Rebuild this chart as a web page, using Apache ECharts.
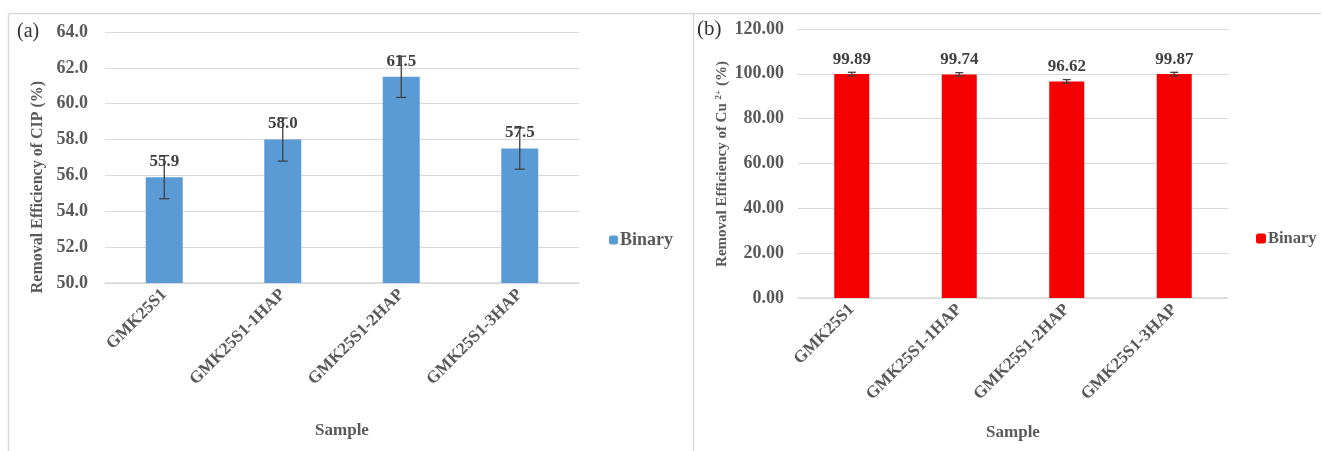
<!DOCTYPE html>
<html>
<head>
<meta charset="utf-8">
<script src="https://cdn.jsdelivr.net/npm/echarts@6/dist/echarts.min.js"></script>
<style>
  html, body { margin: 0; padding: 0; background: #fff; }
  #chart { width: 1322px; height: 451px; }
</style>
</head>
<body>
<div id="chart"></div>
<script>
// Sample names shared by both panels
const samples = ['GMK25S1', 'GMK25S1-1HAP', 'GMK25S1-2HAP', 'GMK25S1-3HAP'];

// Panel (a): CIP removal efficiency (%) and its error
const cipValues = [55.9, 58.0, 61.5, 57.5];
const cipErrors = [1.2, 1.2, 1.15, 1.15];

// Panel (b): Cu2+ removal efficiency (%) and its error
const cuValues = [99.89, 99.74, 96.62, 99.87];
const cuErrors = [0.8, 0.8, 0.8, 0.8];

const serif = '"Liberation Serif", "Times New Roman", serif';
const gridGray = '#d9d9d9';
const textGray = '#595959';

function errorBarSeries(name, xi, yi, values, errors, capHalf) {
  return {
    type: 'custom',
    name: name + ' error',
    xAxisIndex: xi,
    yAxisIndex: yi,
    z: 5,
    silent: true,
    data: values.map((v, i) => [i, v - errors[i], v + errors[i]]),
    renderItem: function (params, api) {
      const lo = api.coord([api.value(0), api.value(1)]);
      const hi = api.coord([api.value(0), api.value(2)]);
      const style = { stroke: '#404040', lineWidth: 1.3 };
      return {
        type: 'group',
        children: [
          { type: 'line', shape: { x1: lo[0], y1: lo[1], x2: hi[0], y2: hi[1] }, style },
          { type: 'line', shape: { x1: lo[0] - capHalf, y1: lo[1], x2: lo[0] + capHalf, y2: lo[1] }, style },
          { type: 'line', shape: { x1: hi[0] - capHalf, y1: hi[1], x2: hi[0] + capHalf, y2: hi[1] }, style }
        ]
      };
    }
  };
}

function catAxis(gridIndex, gap) {
  return {
    type: 'category',
    gridIndex,
    data: samples,
    axisLine: { lineStyle: { color: gridGray, width: 1.5 } },
    axisTick: { show: false },
    axisLabel: {
      rotate: 45,
      margin: 9,
      interval: 0,
      color: textGray,
      fontFamily: serif,
      fontWeight: 'bold',
      fontSize: 17
    },
    name: 'Sample',
    nameLocation: 'middle',
    nameGap: gap,
    nameTextStyle: { color: textGray, fontFamily: serif, fontWeight: 'bold', fontSize: 17 }
  };
}

function valAxis(gridIndex, min, max, interval, decimals, margin) {
  return {
    type: 'value',
    gridIndex,
    min, max, interval,
    axisLine: { show: false },
    axisTick: { show: false },
    splitLine: { lineStyle: { color: gridGray, width: 1.2 } },
    axisLabel: {
      margin,
      color: textGray,
      fontFamily: serif,
      fontWeight: 'bold',
      fontSize: 18,
      formatter: v => v.toFixed(decimals)
    }
  };
}

const labelStyle = {
  show: true,
  position: 'top',
  distance: 7,
  color: '#404040',
  fontFamily: serif,
  fontWeight: 'bold',
  fontSize: 17
};

const chart = echarts.init(document.getElementById('chart'), null, { renderer: 'canvas' });

chart.setOption({
  backgroundColor: '#fff',
  animation: false,
  grid: [
    { left: 105, right: 743, top: 32, bottom: 168 },
    { left: 798, right: 94, top: 29, bottom: 153 }
  ],
  xAxis: [catAxis(0, 139), catAxis(1, 126)],
  yAxis: [valAxis(0, 50, 64, 2, 1, 17), valAxis(1, 0, 120, 20, 2, 14)],
  legend: [
    {
      data: ['CIP'],
      left: 604, top: 226,
      itemWidth: 9, itemHeight: 9, itemGap: 4,
      formatter: () => 'Binary',
      textStyle: { color: textGray, fontFamily: serif, fontWeight: 'bold', fontSize: 18, padding: [0, 0, 0, -3] }
    },
    {
      data: ['Cu'],
      left: 1251, top: 225,
      itemWidth: 10, itemHeight: 10, itemGap: 4,
      formatter: () => 'Binary',
      textStyle: { color: textGray, fontFamily: serif, fontWeight: 'bold', fontSize: 16.5, padding: [0, 0, 0, -3] }
    }
  ],
  series: [
    {
      type: 'bar', name: 'CIP', xAxisIndex: 0, yAxisIndex: 0,
      data: cipValues, barWidth: 37,
      itemStyle: { color: '#5b9bd5' },
      label: Object.assign({}, labelStyle, { formatter: p => p.value.toFixed(1) })
    },
    {
      type: 'bar', name: 'Cu', xAxisIndex: 1, yAxisIndex: 1,
      data: cuValues, barWidth: 35,
      itemStyle: { color: '#f50000' },
      label: Object.assign({}, labelStyle, { distance: 6, formatter: p => p.value.toFixed(2) })
    },
    errorBarSeries('CIP', 0, 0, cipValues, cipErrors, 5),
    errorBarSeries('Cu', 1, 1, cuValues, cuErrors, 4)
  ],
  graphic: [
    // panel frames
    { type: 'line', shape: { x1: 8.5, y1: 13.5, x2: 1321, y2: 13.5 }, style: { stroke: gridGray, lineWidth: 1.5 } },
    { type: 'line', shape: { x1: 8.5, y1: 13.5, x2: 8.5, y2: 451 }, style: { stroke: gridGray, lineWidth: 1.5 } },
    { type: 'line', shape: { x1: 693.5, y1: 13.5, x2: 693.5, y2: 451 }, style: { stroke: gridGray, lineWidth: 1.5 } },
    // panel tags
    { type: 'text', x: 17, y: 32, style: { text: '(a)', fill: '#333', font: '20px ' + serif, textVerticalAlign: 'middle' } },
    { type: 'text', x: 697, y: 29, style: { text: '(b)', fill: '#333', font: '21px ' + serif, textVerticalAlign: 'middle' } },
    // y-axis titles
    {
      type: 'text', x: 38, y: 187, rotation: Math.PI / 2,
      style: {
        text: 'Removal Efficiency of CIP (%)',
        fill: textGray, font: 'bold 16px ' + serif,
        textAlign: 'center', textVerticalAlign: 'middle'
      }
    },
    {
      type: 'text', x: 722, y: 164, rotation: Math.PI / 2,
      style: {
        text: 'Removal Efficiency of Cu {sup|2+} (%)',
        rich: { sup: { fontSize: 9, fontWeight: 'bold', fontFamily: serif, fill: textGray, verticalAlign: 'top', padding: [0, 0, 7, 0] } },
        fill: textGray, font: 'bold 15px ' + serif,
        textAlign: 'center', textVerticalAlign: 'middle'
      }
    }
  ]
});
</script>
</body>
</html>
